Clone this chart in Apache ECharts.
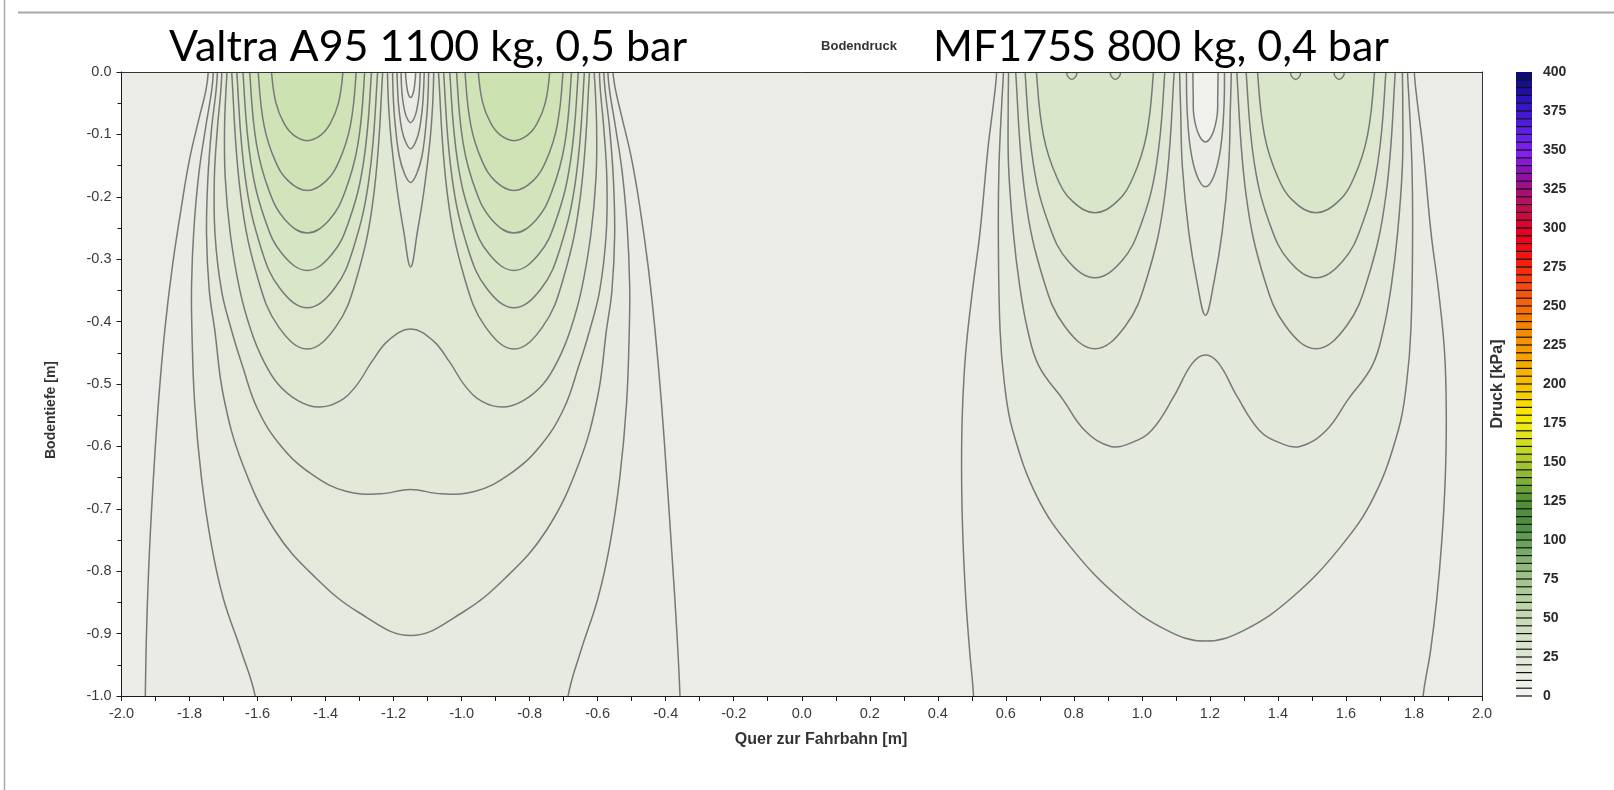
<!DOCTYPE html>
<html><head><meta charset="utf-8">
<script src="https://cdn.jsdelivr.net/npm/echarts@6/dist/echarts.min.js"></script>
<style>html,body{margin:0;padding:0;background:#fff}#c{width:1614px;height:790px}</style>
</head><body><div id="c"></div>
<script>
// ---------- axis ticks ----------
const xRange = [-2, 2];
const yRange = [-1, 0];
const colorbarTicks = [0,25,50,75,100,125,150,175,200,225,250,275,300,325,350,375,400];
const bandStarts = [0,5,10,15,20,25,30,35,40,45,50,55,60,65,70,75,80,85,90,95,100,105,110,115,120,125,130,135,140,145,150,155,160,165,170,175,180,185,190,195,200,205,210,215,220,225,230,235,240,245,250,255,260,265,270,275,280,285,290,295,300,305,310,315,320,325,330,335,340,345,350,355,360,365,370,375,380,385,390,395];

// ---------- Valtra A95 (left pair) contour lines [x, depth] ----------
const valtraA = [[-1.745,0],[-1.752,-0.03],[-1.77,-0.07],[-1.80,-0.14],[-1.825,-0.22],[-1.85,-0.31],[-1.872,-0.41],[-1.89,-0.52],[-1.905,-0.64],[-1.918,-0.77],[-1.926,-0.89],[-1.93,-1.0],
  [-0.358,-1.0],[-0.368,-0.89],[-0.382,-0.77],[-0.398,-0.64],[-0.414,-0.52],[-0.432,-0.41],[-0.452,-0.31],[-0.475,-0.22],[-0.50,-0.14],[-0.53,-0.07],[-0.547,-0.03],[-0.555,0]];
const valtraB = [[-1.730,0],[-1.735,-0.03],[-1.75,-0.08],[-1.772,-0.16],[-1.787,-0.25],[-1.794,-0.34],[-1.793,-0.413],[-1.785,-0.53],[-1.765,-0.65],[-1.735,-0.76],[-1.70,-0.845],[-1.65,-0.925],[-1.607,-1.0],
  [-0.687,-1.0],[-0.648,-0.925],[-0.60,-0.845],[-0.565,-0.76],[-0.535,-0.65],[-0.515,-0.53],[-0.507,-0.413],[-0.506,-0.34],[-0.513,-0.25],[-0.528,-0.16],[-0.55,-0.08],[-0.565,-0.03],[-0.570,0]];
const valtraC = [[-1.718,0],[-1.722,-0.03],[-1.735,-0.09],[-1.746,-0.17],[-1.75,-0.26],[-1.742,-0.35],[-1.726,-0.413],[-1.70,-0.52],[-1.645,-0.627],[-1.55,-0.734],[-1.43,-0.81],[-1.30,-0.867],[-1.15,-0.903],[-1.00,-0.867],[-0.87,-0.81],[-0.75,-0.734],[-0.655,-0.627],[-0.60,-0.52],[-0.574,-0.413],[-0.558,-0.35],[-0.55,-0.26],[-0.554,-0.17],[-0.565,-0.09],[-0.578,-0.03],[-0.582,0]];
const valtraD = [[-1.705,0],[-1.708,-0.03],[-1.718,-0.09],[-1.727,-0.17],[-1.725,-0.26],[-1.706,-0.35],[-1.677,-0.413],[-1.645,-0.47],[-1.60,-0.54],[-1.53,-0.60],[-1.44,-0.645],[-1.34,-0.672],[-1.24,-0.676],[-1.15,-0.669],[-1.06,-0.676],[-0.96,-0.672],[-0.86,-0.645],[-0.77,-0.60],[-0.70,-0.54],[-0.655,-0.47],[-0.623,-0.413],[-0.594,-0.35],[-0.575,-0.26],[-0.573,-0.17],[-0.582,-0.09],[-0.592,-0.03],[-0.595,0]];
const valtraE = [[-1.690,0],[-1.693,-0.03],[-1.697,-0.09],[-1.695,-0.17],[-1.68,-0.26],[-1.652,-0.35],[-1.62,-0.413],[-1.585,-0.46],[-1.54,-0.50],[-1.48,-0.527],[-1.42,-0.537],[-1.36,-0.528],[-1.31,-0.503],[-1.265,-0.465],[-1.215,-0.43],[-1.15,-0.412],[-1.085,-0.43],[-1.035,-0.465],[-0.99,-0.503],[-0.94,-0.528],[-0.88,-0.537],[-0.82,-0.527],[-0.76,-0.50],[-0.715,-0.46],[-0.68,-0.413],[-0.648,-0.35],[-0.62,-0.26],[-0.605,-0.17],[-0.603,-0.09],[-0.607,-0.03],[-0.610,0]];
const valtraT5 = [[-1.218,0],[-1.215,-0.05],[-1.207,-0.11],[-1.19,-0.1875],[-1.17,-0.256],[-1.15,-0.3125],[-1.13,-0.256],[-1.11,-0.1875],[-1.093,-0.11],[-1.085,-0.05],[-1.082,0]];
const valtraT4 = [[-1.203,0],[-1.201,-0.04],[-1.196,-0.08],[-1.184,-0.133],[-1.168,-0.163],[-1.15,-0.177],[-1.132,-0.163],[-1.116,-0.133],[-1.104,-0.08],[-1.099,-0.04],[-1.097,0]];
const valtraT3 = [[-1.19,0],[-1.188,-0.03],[-1.185,-0.055],[-1.176,-0.092],[-1.164,-0.113],[-1.15,-0.123],[-1.136,-0.113],[-1.124,-0.092],[-1.115,-0.055],[-1.112,-0.03],[-1.11,0]];
const valtraT2 = [[-1.178,0],[-1.175,-0.036],[-1.168,-0.061],[-1.16,-0.0745],[-1.15,-0.081],[-1.14,-0.0745],[-1.132,-0.061],[-1.125,-0.036],[-1.122,0]];
const valtraT1 = [[-1.165,0],[-1.162,-0.02],[-1.157,-0.035],[-1.15,-0.041],[-1.143,-0.035],[-1.138,-0.02],[-1.135,0]];
const valtraL6a = [[-1.676,0],[-1.649,-0.1998],[-1.598,-0.333],[-1.538,-0.4085],[-1.454,-0.444],[-1.37,-0.4085],[-1.31,-0.333],[-1.259,-0.1998],[-1.232,0]];
const valtraL6b = [[-1.068,0],[-1.041,-0.1998],[-0.99,-0.333],[-0.93,-0.4085],[-0.846,-0.444],[-0.762,-0.4085],[-0.702,-0.333],[-0.651,-0.1998],[-0.624,0]];
const valtraL5a = [[-1.661,0],[-1.636,-0.1701],[-1.589,-0.2835],[-1.533,-0.3478],[-1.454,-0.378],[-1.375,-0.3478],[-1.319,-0.2835],[-1.272,-0.1701],[-1.247,0]];
const valtraL5b = [[-1.053,0],[-1.028,-0.1701],[-0.981,-0.2835],[-0.925,-0.3478],[-0.846,-0.378],[-0.767,-0.3478],[-0.711,-0.2835],[-0.664,-0.1701],[-0.639,0]];
const valtraL4a = [[-1.643,0],[-1.62,-0.1431],[-1.577,-0.2385],[-1.526,-0.2926],[-1.454,-0.318],[-1.382,-0.2926],[-1.331,-0.2385],[-1.288,-0.1431],[-1.265,0]];
const valtraL4b = [[-1.035,0],[-1.012,-0.1431],[-0.969,-0.2385],[-0.918,-0.2926],[-0.846,-0.318],[-0.774,-0.2926],[-0.723,-0.2385],[-0.68,-0.1431],[-0.657,0]];
const valtraL3a = [[-1.623,0],[-1.603,-0.1161],[-1.564,-0.1935],[-1.518,-0.2374],[-1.454,-0.258],[-1.39,-0.2374],[-1.344,-0.1935],[-1.305,-0.1161],[-1.285,0]];
const valtraL3b = [[-1.015,0],[-0.995,-0.1161],[-0.956,-0.1935],[-0.91,-0.2374],[-0.846,-0.258],[-0.782,-0.2374],[-0.736,-0.1935],[-0.697,-0.1161],[-0.677,0]];
const valtraL2a = [[-1.598,0],[-1.581,-0.0855],[-1.548,-0.1425],[-1.509,-0.1748],[-1.454,-0.19],[-1.399,-0.1748],[-1.36,-0.1425],[-1.327,-0.0855],[-1.31,0]];
const valtraL2b = [[-0.99,0],[-0.973,-0.0855],[-0.94,-0.1425],[-0.901,-0.1748],[-0.846,-0.19],[-0.791,-0.1748],[-0.752,-0.1425],[-0.719,-0.0855],[-0.702,0]];
const valtraL1a = [[-1.559,0],[-1.546,-0.0495],[-1.522,-0.0825],[-1.494,-0.1012],[-1.454,-0.11],[-1.414,-0.1012],[-1.386,-0.0825],[-1.362,-0.0495],[-1.349,0]];
const valtraL1b = [[-0.951,0],[-0.938,-0.0495],[-0.914,-0.0825],[-0.886,-0.1012],[-0.846,-0.11],[-0.806,-0.1012],[-0.778,-0.0825],[-0.754,-0.0495],[-0.741,0]];

// ---------- MF175S (right pair) contour lines [x, depth] ----------
const mfA = [[0.573,0],[0.566,-0.04],[0.548,-0.12],[0.524,-0.257],[0.502,-0.35],[0.482,-0.45],[0.472,-0.55],[0.470,-0.65],[0.474,-0.75],[0.483,-0.85],[0.494,-0.93],[0.505,-1.0],
  [1.827,-1.0],[1.848,-0.93],[1.866,-0.85],[1.882,-0.75],[1.892,-0.65],[1.895,-0.55],[1.89,-0.45],[1.872,-0.35],[1.85,-0.257],[1.826,-0.12],[1.808,-0.04],[1.801,0]];
const mfC = [[0.593,0],[0.588,-0.05],[0.58,-0.15],[0.578,-0.257],[0.583,-0.413],[0.596,-0.5],[0.62,-0.574],[0.692,-0.681],[0.79,-0.761],[0.93,-0.841],[1.071,-0.894],[1.187,-0.912],[1.303,-0.894],[1.444,-0.841],[1.584,-0.761],[1.682,-0.681],[1.754,-0.574],[1.778,-0.5],[1.791,-0.413],[1.796,-0.257],[1.794,-0.15],[1.786,-0.05],[1.781,0]];
const mfW = [[0.608,0],[0.607,-0.05],[0.608,-0.15],[0.622,-0.257],[0.64,-0.34],[0.664,-0.413],[0.697,-0.471],[0.768,-0.525],[0.833,-0.575],[0.909,-0.600],[0.970,-0.594],[1.029,-0.574],[1.094,-0.52],[1.148,-0.467],[1.187,-0.4535],[1.226,-0.467],[1.280,-0.52],[1.345,-0.574],[1.404,-0.594],[1.465,-0.600],[1.541,-0.575],[1.606,-0.525],[1.677,-0.471],[1.710,-0.413],[1.734,-0.34],[1.752,-0.257],[1.766,-0.15],[1.767,-0.05],[1.766,0]];
const mfT3 = [[1.111,0],[1.114,-0.06],[1.119,-0.151],[1.138,-0.257],[1.1625,-0.338],[1.187,-0.39],[1.2115,-0.338],[1.236,-0.257],[1.255,-0.151],[1.26,-0.06],[1.263,0]];
const mfT2 = [[1.131,0],[1.133,-0.06],[1.143,-0.124],[1.1625,-0.167],[1.187,-0.184],[1.2115,-0.167],[1.231,-0.124],[1.241,-0.06],[1.243,0]];
const mfT1 = [[1.150,0],[1.151,-0.04],[1.153,-0.0705],[1.167,-0.100],[1.187,-0.112],[1.207,-0.100],[1.221,-0.0705],[1.223,-0.04],[1.224,0]];
const mfP1a = [[0.629,0],[0.657,-0.1995],[0.7105,-0.3326],[0.7735,-0.4079],[0.862,-0.4434],[0.9505,-0.4079],[1.0135,-0.3326],[1.067,-0.1995],[1.095,0]];
const mfP1b = [[1.279,0],[1.307,-0.1995],[1.3605,-0.3326],[1.4235,-0.4079],[1.512,-0.4434],[1.6005,-0.4079],[1.6635,-0.3326],[1.717,-0.1995],[1.745,0]];
const mfP2a = [[0.6565,0],[0.6812,-0.1483],[0.7284,-0.2472],[0.7839,-0.3032],[0.862,-0.3296],[0.9401,-0.3032],[0.9956,-0.2472],[1.0428,-0.1483],[1.0675,0]];
const mfP2b = [[1.3065,0],[1.3312,-0.1483],[1.3784,-0.2472],[1.4339,-0.3032],[1.512,-0.3296],[1.5901,-0.3032],[1.6456,-0.2472],[1.6928,-0.1483],[1.7175,0]];
const mfP3a = [[0.69,0],[0.7106,-0.1014],[0.7502,-0.1691],[0.7966,-0.2074],[0.862,-0.2254],[0.9274,-0.2074],[0.9738,-0.1691],[1.0134,-0.1014],[1.034,0]];
const mfP3b = [[1.34,0],[1.3606,-0.1014],[1.4002,-0.1691],[1.4466,-0.2074],[1.512,-0.2254],[1.5774,-0.2074],[1.6238,-0.1691],[1.6634,-0.1014],[1.684,0]];
const mfB1 = [[0.779,0],[0.782,-0.007],[0.794,-0.012],[0.806,-0.007],[0.809,0]];
const mfB2 = [[0.907,0],[0.910,-0.007],[0.922,-0.012],[0.934,-0.007],[0.937,0]];
const mfB3 = [[1.437,0],[1.440,-0.007],[1.452,-0.012],[1.464,-0.007],[1.467,0]];
const mfB4 = [[1.565,0],[1.568,-0.007],[1.580,-0.012],[1.592,-0.007],[1.595,0]];

// ---------- styles ----------
const PLOT_BG = '#ebebe7';
const LINE_COLOR = '#787878';
const SMOOTH = 0.4;
const FONT = 'Liberation Sans, Arial, sans-serif';

// draw order (outer -> inner) with fill colours
const shapes = [
  [valtraA,'#e9ebe4'],[valtraB,'#e6eae0'],[valtraC,'#e4e9dc'],[valtraD,'#e2e9d8'],[valtraE,'#dfe8d3'],
  [valtraT5,'#e2e9d8'],[valtraT4,'#e4e9dc'],[valtraT3,'#e6eae0'],[valtraT2,'#e9ebe4'],[valtraT1,'#f0f1ed'],
  [valtraL6a,'#dce7ce'],[valtraL6b,'#dce7ce'],[valtraL5a,'#d9e6c8'],[valtraL5b,'#d9e6c8'],
  [valtraL4a,'#d6e5c3'],[valtraL4b,'#d6e5c3'],[valtraL3a,'#d3e4bd'],[valtraL3b,'#d3e4bd'],
  [valtraL2a,'#d0e3b7'],[valtraL2b,'#d0e3b7'],[valtraL1a,'#cce2b0'],[valtraL1b,'#cce2b0'],
  [mfA,'#e9ebe4'],[mfC,'#e5eadf'],[mfW,'#e2e9da'],
  [mfT3,'#e5eadf'],[mfT2,'#e9ebe4'],[mfT1,'#f0f1ed'],
  [mfP1a,'#e0e8d5'],[mfP1b,'#e0e8d5'],[mfP2a,'#dde7d0'],[mfP2b,'#dde7d0'],[mfP3a,'#dae6ca'],[mfP3b,'#dae6ca'],
  [mfB1,'#d6e4c3'],[mfB2,'#d6e4c3'],[mfB3,'#d6e4c3'],[mfB4,'#d6e4c3']
];

const cbStops = [[0,'#f3f4f0'],[20,'#e4eadc'],[40,'#d2e0c4'],[60,'#b9d2a4'],[80,'#97bd84'],[95,'#72a562'],[110,'#4e8c40'],[125,'#4f9036'],[140,'#86b432'],[155,'#bcd12a'],[170,'#e8e81a'],[180,'#f6ec00'],[195,'#f6c800'],[215,'#f4a400'],[240,'#f48000'],[260,'#f45010'],[280,'#f41a10'],[295,'#e8001c'],[310,'#c80c44'],[322,'#a81070'],[335,'#8c10b0'],[348,'#8420f0'],[362,'#5c20e4'],[380,'#3014c4'],[400,'#060a68']];
function hex(c){return [parseInt(c.substr(1,2),16),parseInt(c.substr(3,2),16),parseInt(c.substr(5,2),16)];}
function bandColor(v){
  for (let i=0;i<cbStops.length-1;i++){
    const a=cbStops[i], b=cbStops[i+1];
    if (v>=a[0] && v<=b[0]){
      const t=(v-a[0])/(b[0]-a[0]); const ca=hex(a[1]), cb=hex(b[1]);
      return 'rgb('+ca.map((x,k)=>Math.round(x+(cb[k]-x)*t)).join(',')+')';
    }
  }
  return cbStops[cbStops.length-1][1];
}

// extend ends that sit on the plot border slightly outside (clipped) so curves meet the border cleanly
function renderPath(pts){
  const out=[]; const n=pts.length;
  if (pts[0][1]===0) out.push([pts[0][0],0.04]);
  for (let i=0;i<n;i++){
    out.push(pts[i]);
    if (i<n-1 && pts[i][1]===-1 && pts[i+1][1]===-1){ out.push([pts[i][0],-1.04]); out.push([pts[i+1][0],-1.04]); }
  }
  if (pts[n-1][1]===0) out.push([pts[n-1][0],0.04]);
  return out;
}

const GL=121.5, GT=72, GR=1482, GB=696;
const chart = echarts.init(document.getElementById('c'), null, {renderer:'canvas'});
const axisLineStyle = {color:'#1a1a1a', width:1};
chart.setOption({
  animation:false,
  backgroundColor:'#ffffff',
  grid:[
    {left:GL, top:GT, width:GR-GL, height:GB-GT, show:true, backgroundColor:PLOT_BG, borderWidth:0},
    {left:1516, top:GT, width:16, height:GB-GT, show:false}
  ],
  xAxis:[
    {gridIndex:0, type:'value', min:xRange[0], max:xRange[1], interval:0.2, position:'bottom', z:10,
     axisLine:{show:true, onZero:false, lineStyle:axisLineStyle},
     axisTick:{show:true, length:5, lineStyle:axisLineStyle},
     minorTick:{show:true, splitNumber:2, length:5, lineStyle:axisLineStyle},
     axisLabel:{formatter:v=>v.toFixed(1), color:'#3a3a3a', fontSize:14.5, fontFamily:FONT, margin:10},
     splitLine:{show:false}},
    {gridIndex:0, type:'value', min:xRange[0], max:xRange[1], position:'top', z:10,
     axisLine:{show:true, onZero:false, lineStyle:{color:'#333', width:1}}, axisTick:{show:false}, axisLabel:{show:false}, splitLine:{show:false}},
    {gridIndex:1, type:'value', min:0, max:1, show:false}
  ],
  yAxis:[
    {gridIndex:0, type:'value', min:yRange[0], max:yRange[1], interval:0.1, position:'left', z:10,
     axisLine:{show:true, onZero:false, lineStyle:axisLineStyle},
     axisTick:{show:true, length:5, lineStyle:axisLineStyle},
     minorTick:{show:true, splitNumber:2, length:4, lineStyle:axisLineStyle},
     axisLabel:{formatter:v=>v.toFixed(1), color:'#3a3a3a', fontSize:14.5, fontFamily:FONT, margin:10},
     splitLine:{show:false}},
    {gridIndex:0, type:'value', min:yRange[0], max:yRange[1], position:'right', z:10,
     axisLine:{show:true, onZero:false, lineStyle:{color:'#333', width:1}}, axisTick:{show:false}, axisLabel:{show:false}, splitLine:{show:false}},
    {gridIndex:1, type:'value', min:0, max:400, interval:25, position:'right',
     axisLine:{show:false}, axisTick:{show:false}, splitLine:{show:false},
     axisLabel:{color:'#2a2a2a', fontSize:14, fontWeight:'bold', fontFamily:'Liberation Sans Narrow, Liberation Sans, Arial', margin:11,
       formatter:v=>colorbarTicks.indexOf(v)>=0?String(v):''}}
  ],
  graphic:[
    {type:'line', silent:true, shape:{x1:18,y1:12.5,x2:1614,y2:12.5}, style:{stroke:'#a8a8a8', lineWidth:2}},
    {type:'line', silent:true, shape:{x1:4.5,y1:0,x2:4.5,y2:790}, style:{stroke:'#a8a8a8', lineWidth:1.5}},
    {type:'text', x:428, y:47, style:{text:'Valtra A95 1100 kg, 0,5 bar', fontSize:43, fontFamily:'Lato, Open Sans, sans-serif', fill:'#000', align:'center', verticalAlign:'middle'}},
    {type:'text', x:1161, y:47, style:{text:'MF175S 800 kg, 0,4 bar', fontSize:43, fontFamily:'Lato, Open Sans, sans-serif', fill:'#000', align:'center', verticalAlign:'middle'}},
    {type:'text', x:859, y:46, style:{text:'Bodendruck', fontSize:13, fontWeight:'bold', fontFamily:FONT, fill:'#333', align:'center', verticalAlign:'middle'}},
    {type:'text', x:821, y:740, style:{text:'Quer zur Fahrbahn [m]', fontSize:16, fontWeight:'bold', fontFamily:FONT, fill:'#333', align:'center', verticalAlign:'middle'}},
    {type:'text', x:51, y:410, rotation:Math.PI/2, style:{text:'Bodentiefe [m]', fontSize:14, fontWeight:'bold', fontFamily:FONT, fill:'#333', align:'center', verticalAlign:'middle'}},
    {type:'text', x:1498, y:384, rotation:Math.PI/2, style:{text:'Druck [kPa]', fontSize:16, fontWeight:'bold', fontFamily:FONT, fill:'#333', align:'center', verticalAlign:'middle'}}
  ],
  series:[
    {type:'custom', xAxisIndex:0, yAxisIndex:0, clip:true, silent:true, z:2,
     data: shapes.map((s,i)=>[s[0][0][0], s[0][0][1], i]),
     encode:{x:0, y:1},
     renderItem:(params, api)=>{
       const s = shapes[api.value(2)];
       const pts = renderPath(s[0]).map(p=>api.coord(p));
       return {type:'group', children:[
         {type:'polygon', shape:{points:pts, smooth:SMOOTH}, style:{fill:s[1], stroke:null}},
         {type:'polyline', shape:{points:pts, smooth:SMOOTH}, style:{fill:null, stroke:LINE_COLOR, lineWidth:1.5}}
       ]};
     }},
    {type:'custom', xAxisIndex:2, yAxisIndex:2, silent:true,
     data: bandStarts.map(v=>[0, v]),
     encode:{x:0, y:1},
     renderItem:(params, api)=>{
       const v = api.value(1);
       const p0 = api.coord([0, v]), p1 = api.coord([1, v+5]);
       return {type:'group', children:[
         {type:'rect', shape:{x:p0[0], y:p1[1], width:p1[0]-p0[0], height:p0[1]-p1[1]}, style:{fill:bandColor(v+2.5)}},
         {type:'line', shape:{x1:p0[0], y1:p0[1], x2:p1[0], y2:p0[1]}, style:{stroke:'#111', lineWidth:1.2}}
       ]};
     }}
  ]
});
</script></body></html>
